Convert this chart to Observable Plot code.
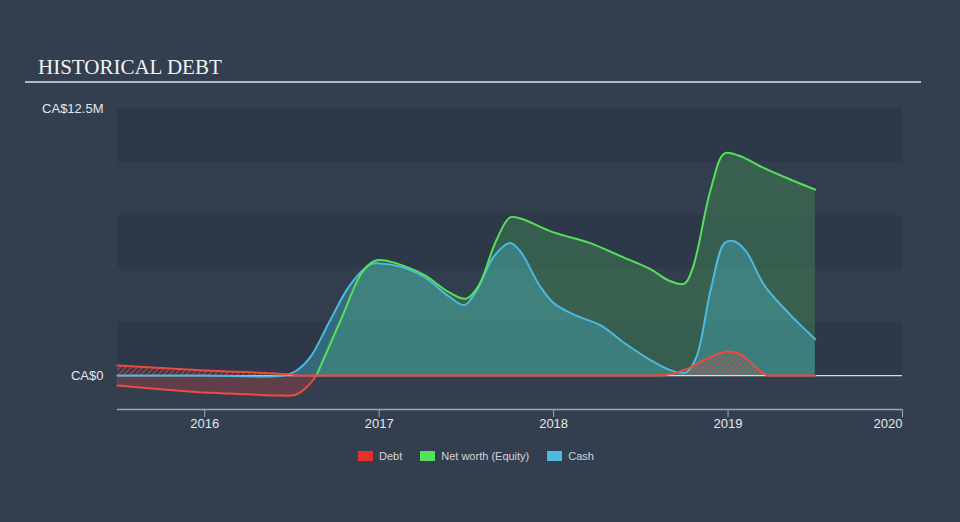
<!DOCTYPE html>
<html><head><meta charset="utf-8">
<script src="https://cdn.jsdelivr.net/npm/d3@7"></script>
<script src="https://cdn.jsdelivr.net/npm/@observablehq/plot@0.6"></script>
<style>
html,body{margin:0;padding:0;background:#333f4f;width:960px;height:522px;overflow:hidden;font-family:"Liberation Sans",Arial,sans-serif;}
#title{position:absolute;left:38px;top:55px;font-family:"Liberation Serif","Times New Roman",serif;font-size:21px;color:#f2f2f2;}
#rule{position:absolute;left:25px;top:81px;width:896px;height:2px;background:#b3bac3;}
#chart{position:absolute;left:0;top:90px;}
#legend{position:absolute;left:358px;top:450px;display:flex;align-items:center;font-size:11px;color:#d0d4da;}
#legend .item{display:flex;align-items:center;margin-right:18px;}
#legend .sw{width:15px;height:10px;margin-right:6px;}
</style>
</head><body>
<svg width="0" height="0" style="position:absolute">
  <defs>
    <pattern id="hatch" width="4" height="4" patternUnits="userSpaceOnUse" patternTransform="rotate(45)">
      <line x1="1" y1="0" x2="1" y2="4" stroke="#e8453c" stroke-width="1.3" stroke-opacity="0.8"/>
    </pattern>
  </defs>
</svg>
<div id="title">HISTORICAL DEBT</div>
<div id="rule"></div>
<div id="chart"></div>
<div id="legend"></div>
<script>
// ---- data (values in CA$ millions, x in decimal years) ----
const equityYears = [2015.50,2015.75,2016.00,2016.25,2016.44,2016.52,2016.59,2016.64,2016.78,2016.90,2016.97,2017.02,2017.10,2017.26,2017.40,2017.50,2017.57,2017.67,2017.75,2017.81,2018.00,2018.21,2018.38,2018.55,2018.66,2018.75,2018.80,2018.90,2018.98,2019.06,2019.21,2019.35,2019.50];
const equityValues = [-0.47,-0.64,-0.80,-0.88,-0.94,-0.90,-0.50,0,2.6,4.8,5.35,5.4,5.25,4.7,3.9,3.6,4.2,6.3,7.4,7.35,6.7,6.2,5.6,5.0,4.45,4.3,5.1,8.7,10.4,10.3,9.7,9.2,8.7];

const cashYears = [2015.50,2016.00,2016.45,2016.52,2016.60,2016.72,2016.83,2016.95,2017.00,2017.12,2017.26,2017.40,2017.49,2017.56,2017.66,2017.75,2017.81,2017.92,2018.00,2018.13,2018.27,2018.41,2018.56,2018.67,2018.76,2018.82,2018.90,2018.98,2019.03,2019.10,2019.21,2019.35,2019.50];
const cashValues = [0,0,0,0.2,0.8,2.6,4.2,5.2,5.25,5.1,4.6,3.7,3.3,4.0,5.6,6.2,5.8,4.2,3.4,2.8,2.35,1.5,0.7,0.25,0.15,0.9,4.0,6.2,6.3,5.85,4.2,2.9,1.7];

const debtYears = [2015.50,2016.00,2016.49,2016.55,2017.00,2018.00,2018.55,2018.65,2018.76,2018.87,2019.00,2019.08,2019.15,2019.23,2019.35,2019.50];
const debtValues = [0.47,0.23,0.05,0,0,0,0,0.04,0.3,0.75,1.12,0.95,0.45,0,0,0];

const yearTicks = [2016,2017,2018,2019];
const lastYearTick = [2020];
const yTickValues = [0, 12.5];
const yTickLabels = ["CA$0", "CA$12.5M"];
const bandEdges = [0, 2.5, 5, 7.5, 10, 12.5];
const xDomain = [2015.5, 2020];
const yDomain = [-1.59, 12.5];

const seriesNames = ["Debt", "Net worth (Equity)", "Cash"];
const seriesColors = ["#e8302c", "#55e05a", "#4cb9e0"];

// ---- build tables ----
const equity = equityYears.map((x, i) => ({x, v: equityValues[i]}));
const cash = cashYears.map((x, i) => ({x, v: cashValues[i]}));
const debt = debtYears.map((x, i) => ({x, v: debtValues[i]}));
const k = equityValues.findIndex(v => v === 0);
const eqNeg = equity.slice(0, k + 1);
const eqPos = equity.slice(k);
const bands = bandEdges.slice(0, -1).map((lo, i) => ({lo, hi: bandEdges[i + 1], dark: i % 2 === 0}));

const curve = "catmull-rom";
const debtCurve = "monotone-x";
const plot = Plot.plot({
  width: 960,
  height: 350,
  marginLeft: 117,
  marginRight: 58,
  marginTop: 18,
  marginBottom: 31,
  style: {background: "transparent", fontFamily: "'Liberation Sans', Arial, sans-serif", fontSize: "13px", overflow: "visible"},
  x: {domain: xDomain},
  y: {domain: yDomain},
  marks: [
    Plot.rect(bands, {y1: "lo", y2: "hi", fill: d => d.dark ? "#2d3949" : "#323e4e"}),
    Plot.areaY(eqPos, {x: "x", y: "v", curve, fill: seriesColors[1], fillOpacity: 0.22}),
    Plot.areaY(cash, {x: "x", y: "v", curve, fill: "#45b5c8", fillOpacity: 0.38}),
    Plot.areaY(eqNeg, {x: "x", y: "v", curve, fill: "#e8403e", fillOpacity: 0.25}),
    Plot.areaY(debt, {x: "x", y: "v", curve: debtCurve, fill: "url(#hatch)"}),
    Plot.ruleY([0], {stroke: "#d8dde3", strokeWidth: 1.2}),
    Plot.line(cash, {x: "x", y: "v", curve, stroke: seriesColors[2], strokeWidth: 2}),
    Plot.line(eqPos, {x: "x", y: "v", curve, stroke: seriesColors[1], strokeWidth: 2}),
    Plot.line(eqNeg, {x: "x", y: "v", curve, stroke: "#f04a44", strokeWidth: 2}),
    Plot.line(debt, {x: "x", y: "v", curve: debtCurve, stroke: "#ee4a40", strokeWidth: 2}),
    Plot.ruleY([yDomain[0]], {stroke: "#9aa5b2", strokeWidth: 1.5}),
    Plot.axisX({ticks: yearTicks, tickFormat: d => String(d), tickSize: 8, tickPadding: 1, stroke: "#9aa5b2", fill: "#e4e7eb", label: null}),
    Plot.axisX({ticks: lastYearTick, tickFormat: d => String(d), tickSize: 8, tickPadding: 1, textAnchor: "end", stroke: "#9aa5b2", fill: "#e4e7eb", label: null}),
    Plot.axisY({ticks: yTickValues, tickFormat: d => yTickLabels[yTickValues.indexOf(d)], tickSize: 0, tickPadding: 14, fill: "#e4e7eb", label: null})
  ]
});
document.getElementById("chart").appendChild(plot);

const legend = document.getElementById("legend");
seriesNames.forEach((name, i) => {
  const item = document.createElement("div");
  item.className = "item";
  const sw = document.createElement("div");
  sw.className = "sw";
  sw.style.background = seriesColors[i];
  const t = document.createElement("span");
  t.textContent = name;
  item.appendChild(sw);
  item.appendChild(t);
  legend.appendChild(item);
});
</script>
</body></html>
